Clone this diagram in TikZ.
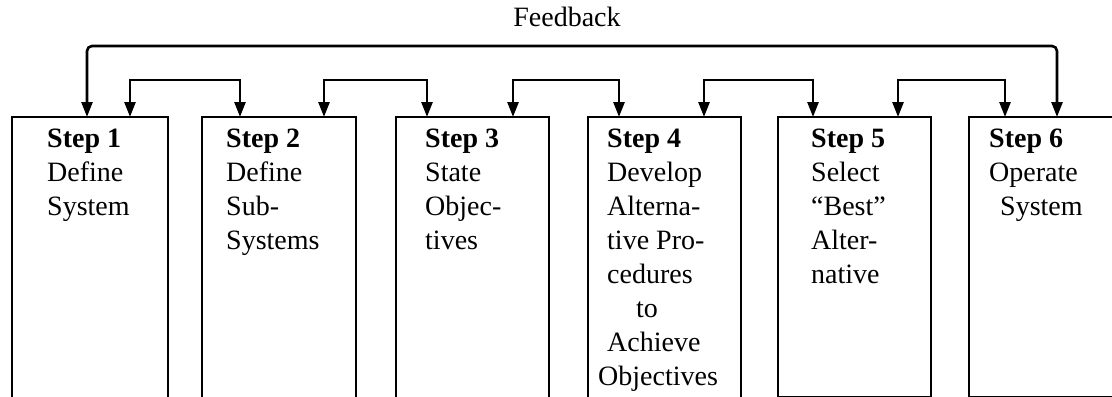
\documentclass[tikz,border=0pt]{standalone}
\usepackage{fontspec}
\setmainfont{Liberation Serif}
\usetikzlibrary{arrows.meta}
\begin{document}
\begin{tikzpicture}[x=1bp,y=-1bp,
  stepbox/.style={draw,line width=2.6bp,rectangle,outer sep=0pt,inner sep=0pt,
    minimum height=280bp,anchor=north west},
  openbox/.style={stepbox,minimum height=290bp},
  steptext/.style={anchor=north west,inner sep=0pt,align=left,
    font=\fontsize{28bp}{33.9bp}\selectfont},
  conn/.style={line width=2.6bp,{Triangle[width=11bp,length=15bp]}-{Triangle[width=11bp,length=15bp]}},
  fb/.style={conn,rounded corners=5bp}
]
\useasboundingbox (0,0) rectangle (1112,396);
% boxes
\node[openbox,minimum width=156bp] (b1) at (12,117) {};
\node[openbox,minimum width=154bp] (b2) at (202,117) {};
\node[openbox,minimum width=153bp] (b3) at (396,117) {};
\node[openbox,minimum width=153bp] (b4) at (588,117) {};
\node[stepbox,minimum width=153bp] (b5) at (778,117) {};
\node[stepbox,minimum width=170bp] (b6) at (969,117) {};
% texts
\newcommand{\firstline}{\rule{0pt}{20bp}}
\node[steptext] (t1) at (47,127.5) {\firstline\textbf{Step 1}\\Define\\System};
\node[steptext] (t2) at (226,127.5) {\firstline\textbf{Step 2}\\Define\\Sub-\\Systems};
\node[steptext] (t3) at (425,127.5) {\firstline\textbf{Step 3}\\State\\Objec-\\tives};
\node[steptext] (t4) at (607,127.5) {\firstline\textbf{Step 4}\\Develop\\Alterna-\\tive Pro-\\cedures\\\hspace*{29bp}to\\Achieve\\\hspace*{-9bp}Objectives};
\node[steptext] (t5) at (811,127.5) {\firstline\textbf{Step 5}\\Select\\“Best”\\Alter-\\native};
\node[steptext] (t6) at (989,127.5) {\firstline\textbf{Step 6}\\Operate\\\hspace*{11bp}System};
% feedback
\node[anchor=base,inner sep=0pt,font=\fontsize{28bp}{34bp}\selectfont] (fbl) at (567,26) {Feedback};
\draw[fb] ([xshift=75bp]b1.north west) -- ++(0,-71) -| ([xshift=88bp]b6.north west);
% neighbour connectors
\draw[conn] ([xshift=118bp]b1.north west) -- ++(0,-37) -| ([xshift=38bp]b2.north west);
\draw[conn] ([xshift=122bp]b2.north west) -- ++(0,-37) -| ([xshift=31bp]b3.north west);
\draw[conn] ([xshift=117bp]b3.north west) -- ++(0,-37) -| ([xshift=31bp]b4.north west);
\draw[conn] ([xshift=116bp]b4.north west) -- ++(0,-37) -| ([xshift=35bp]b5.north west);
\draw[conn] ([xshift=120bp]b5.north west) -- ++(0,-37) -| ([xshift=36bp]b6.north west);
\end{tikzpicture}
\end{document}
